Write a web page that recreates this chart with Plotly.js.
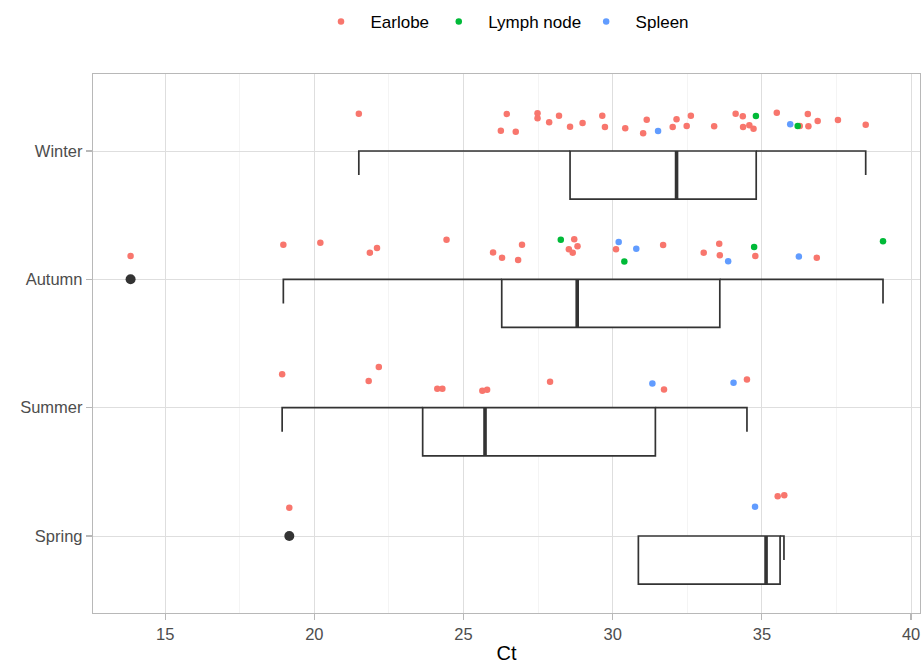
<!DOCTYPE html>
<html>
<head>
<meta charset="utf-8">
<script src="https://cdn.plot.ly/plotly-3.0.1.min.js"></script>
<style>html,body{margin:0;padding:0;background:#fff;}#chart{width:924px;height:664px;}</style>
</head>
<body>
<div id="chart"></div>
<script>
// Categories (bottom to top)
const seasons = ["Spring", "Summer", "Autumn", "Winter"];
const tissues = ["Earlobe", "Lymph node", "Spleen"];
const tissueColors = ["#F8766D", "#00BA38", "#619CFF"];

const winterCt = [21.49, 26.45, 26.25, 26.75, 27.48, 27.48, 27.87, 28.20, 28.57, 28.99, 29.65, 29.74, 30.42, 31.02, 31.14, 31.52, 32.01, 32.14, 32.48, 32.62, 33.40, 34.12, 34.36, 34.80, 34.37, 34.58, 34.72, 35.50, 35.95, 36.20, 36.27, 36.54, 36.56, 36.87, 37.55, 38.48];
const winterTissue = ["Earlobe","Earlobe","Earlobe","Earlobe","Earlobe","Earlobe","Earlobe","Earlobe","Earlobe","Earlobe","Earlobe","Earlobe","Earlobe","Earlobe","Earlobe","Spleen","Earlobe","Earlobe","Earlobe","Earlobe","Earlobe","Earlobe","Earlobe","Lymph node","Earlobe","Earlobe","Earlobe","Earlobe","Spleen","Lymph node","Earlobe","Earlobe","Earlobe","Earlobe","Earlobe","Earlobe"];
const winterJit = [0.29, 0.288, 0.158, 0.150, 0.294, 0.255, 0.224, 0.275, 0.189, 0.218, 0.275, 0.187, 0.177, 0.138, 0.244, 0.156, 0.187, 0.247, 0.195, 0.275, 0.192, 0.29, 0.27, 0.273, 0.187, 0.20, 0.174, 0.298, 0.208, 0.195, 0.195, 0.288, 0.192, 0.234, 0.241, 0.205];

const autumnCt = [13.84, 18.96, 20.20, 21.86, 22.10, 24.43, 25.99, 26.29, 26.83, 26.96, 28.26, 28.71, 28.53, 28.66, 28.82, 30.20, 30.11, 30.79, 30.39, 31.69, 33.05, 33.57, 33.59, 33.87, 34.74, 34.78, 36.24, 36.84, 39.06];
const autumnTissue = ["Earlobe","Earlobe","Earlobe","Earlobe","Earlobe","Earlobe","Earlobe","Earlobe","Earlobe","Earlobe","Lymph node","Earlobe","Earlobe","Earlobe","Earlobe","Spleen","Earlobe","Spleen","Lymph node","Earlobe","Earlobe","Earlobe","Earlobe","Spleen","Lymph node","Earlobe","Spleen","Earlobe","Lymph node"];
const autumnJit = [0.181, 0.27, 0.286, 0.208, 0.244, 0.309, 0.21, 0.169, 0.15, 0.27, 0.309, 0.312, 0.234, 0.208, 0.257, 0.29, 0.234, 0.239, 0.138, 0.267, 0.208, 0.278, 0.187, 0.14, 0.252, 0.181, 0.177, 0.169, 0.296];

const summerCt = [18.92, 21.82, 22.16, 24.12, 24.29, 25.63, 25.79, 27.90, 31.33, 31.72, 34.05, 34.50];
const summerTissue = ["Earlobe","Earlobe","Earlobe","Earlobe","Earlobe","Earlobe","Earlobe","Earlobe","Spleen","Earlobe","Spleen","Earlobe"];
const summerJit = [0.26, 0.207, 0.316, 0.148, 0.148, 0.132, 0.14, 0.202, 0.189, 0.142, 0.195, 0.22];

const springCt = [19.16, 34.77, 35.53, 35.75];
const springTissue = ["Earlobe","Spleen","Earlobe","Earlobe"];
const springJit = [0.22, 0.228, 0.309, 0.317];

// Box statistics per season (Spring, Summer, Autumn, Winter)
const boxQ1 = [30.86, 23.63, 26.28, 28.57];
const boxMedian = [35.14, 25.72, 28.81, 32.14];
const boxQ3 = [35.61, 31.43, 33.59, 34.81];
const whiskerLow = [34.77, 18.92, 18.96, 21.49];
const whiskerHigh = [35.74, 34.50, 39.06, 38.48];
// Outliers
const outlierCt = [19.16, 13.84];
const outlierSeason = ["Spring", "Autumn"];

// ---- build traces ----
const boxH = 0.375;
const capH = 0.1875;
const pos = seasons.map((s, i) => i + 1);

// whiskers (errorbar style, drawn outside the box)
const wx = [], wy = [];
pos.forEach((c, i) => {
  if (whiskerLow[i] < boxQ1[i]) {
    wx.push(whiskerLow[i], whiskerLow[i], boxQ1[i], null);
    wy.push(c - capH, c, c, null);
  }
  if (whiskerHigh[i] > boxQ3[i]) {
    wx.push(boxQ3[i], whiskerHigh[i], whiskerHigh[i], null);
    wy.push(c, c, c - capH, null);
  }
});

const traces = [];
traces.push({
  type: "box", orientation: "h",
  y: pos.map(c => c - boxH / 2),
  q1: boxQ1, median: boxMedian, q3: boxQ3,
  lowerfence: boxQ1, upperfence: boxQ3,
  width: boxH, whiskerwidth: 0,
  fillcolor: "#FFFFFF",
  line: { color: "#333333", width: 1.7 },
  boxpoints: false, hoverinfo: "skip", showlegend: false
});
traces.push({
  type: "scatter", mode: "lines", x: wx, y: wy,
  line: { color: "#333333", width: 1.7 },
  hoverinfo: "skip", showlegend: false
});
// thick median
const mx = [], my = [];
pos.forEach((c, i) => { mx.push(boxMedian[i], boxMedian[i], null); my.push(c - boxH, c, null); });
traces.push({
  type: "scatter", mode: "lines", x: mx, y: my,
  line: { color: "#333333", width: 3.6 },
  hoverinfo: "skip", showlegend: false
});
// outliers
traces.push({
  type: "scatter", mode: "markers",
  x: outlierCt, y: outlierSeason.map(s => seasons.indexOf(s) + 1),
  marker: { color: "#333333", size: 10 },
  hoverinfo: "skip", showlegend: false
});
// jittered points per tissue
const groups = [
  { c: 1, ct: springCt, t: springTissue, j: springJit },
  { c: 2, ct: summerCt, t: summerTissue, j: summerJit },
  { c: 3, ct: autumnCt, t: autumnTissue, j: autumnJit },
  { c: 4, ct: winterCt, t: winterTissue, j: winterJit }
];
const NB = "\u00a0";
const legendPad = [NB, "", NB];
tissues.forEach((tn, k) => {
  const x = [], y = [];
  groups.forEach(g => g.ct.forEach((v, i) => {
    if (g.t[i] === tn) { x.push(v); y.push(g.c + g.j[i]); }
  }));
  traces.push({
    type: "scatter", mode: "markers", name: NB + NB + tn + legendPad[k], x: x, y: y,
    marker: { color: tissueColors[k], size: 6.5 }
  });
});

const font = "Liberation Sans, Arial, sans-serif";
const layout = {
  width: 924, height: 664,
  margin: { l: 93, r: 4, t: 74, b: 51, autoexpand: false },
  paper_bgcolor: "#FFFFFF", plot_bgcolor: "#FFFFFF",
  font: { family: font, size: 16, color: "#4D4D4D" },
  showlegend: true,
  legend: {
    orientation: "h", x: 0.2757, xanchor: "left", y: 1.0965, yanchor: "middle",
    font: { family: font, size: 17, color: "#000000" },
    traceorder: "normal"
  },
  xaxis: {
    range: [12.58, 40.30], tickvals: [15, 20, 25, 30, 35, 40],
    ticktext: ["15", "20", "25", "30", "35", "40"],
    showgrid: true, gridcolor: "#DEDEDE", gridwidth: 1,
    minor: { dtick: 2.5, tick0: 0, showgrid: true, gridcolor: "#EDEDED", gridwidth: 0.6 },
    zeroline: false, showline: true, mirror: true, linecolor: "#B8B8B8", linewidth: 1.2,
    ticks: "outside", ticklen: 6, tickcolor: "#B8B8B8", tickwidth: 1.2,
    tickfont: { family: font, size: 16.5, color: "#4D4D4D" },
    title: { text: "Ct", font: { family: font, size: 20, color: "#000000" }, standoff: 8 }
  },
  yaxis: {
    range: [0.4, 4.6], tickvals: pos, ticktext: seasons,
    showgrid: true, gridcolor: "#DEDEDE", gridwidth: 1,
    zeroline: false, showline: true, mirror: true, linecolor: "#B8B8B8", linewidth: 1.2,
    ticks: "outside", ticklen: 6, tickcolor: "#B8B8B8", tickwidth: 1.2,
    tickfont: { family: font, size: 16.5, color: "#4D4D4D" }
  }
};
Plotly.newPlot("chart", traces, layout, { displayModeBar: false, staticPlot: true });
</script>
</body>
</html>
